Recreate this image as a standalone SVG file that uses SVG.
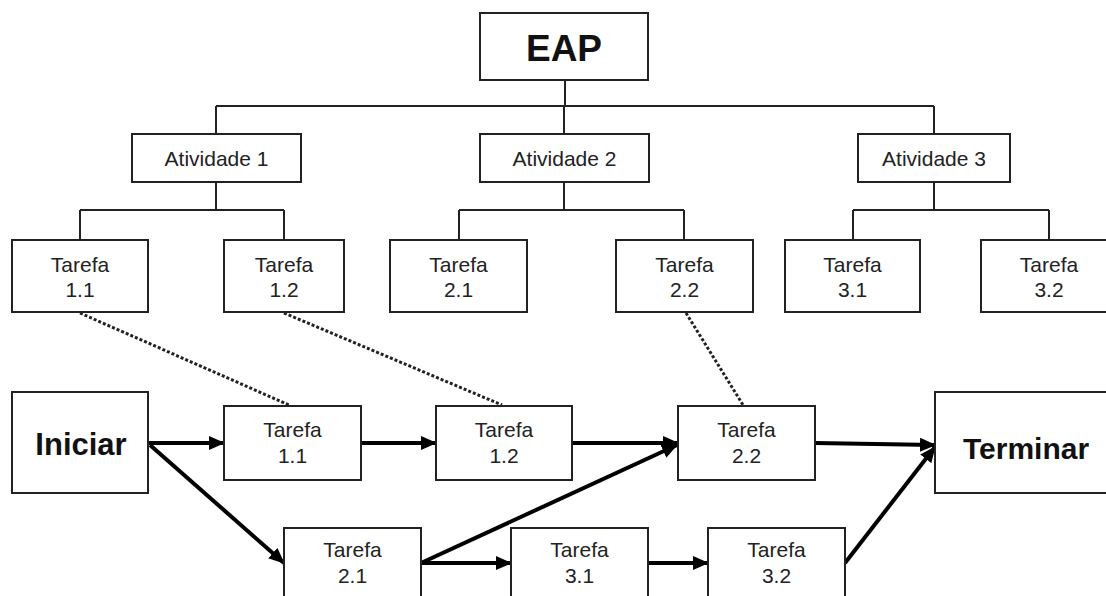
<svg xmlns="http://www.w3.org/2000/svg" width="1106" height="596" viewBox="0 0 1106 596">
<style>
.box{fill:#fff;stroke:#222;stroke-width:2}
.t{font-family:"Liberation Sans",Arial,sans-serif;font-size:21px;fill:#222;text-anchor:middle}
.b{font-family:"Liberation Sans",Arial,sans-serif;font-weight:bold;fill:#111;text-anchor:middle}
.tree{stroke:#222;stroke-width:2;fill:none}
.dot{stroke:#222;stroke-width:3;stroke-dasharray:3 2;fill:none}
.arr{stroke:#000;stroke-width:4;fill:none;marker-end:url(#ah)}
</style>
<defs>
<marker id="ah" markerUnits="userSpaceOnUse" markerWidth="16" markerHeight="14" refX="15" refY="7" orient="auto">
<path d="M0,0 L16,7 L0,14 z" fill="#000"/>
</marker>
</defs>
<rect width="1106" height="596" fill="#fff"/>
<g id="connectors">
<path class="tree" d="M565,80 V106 M216,106 H934 M216,106 V134 M564,106 V134 M934,106 V134"/>
<path class="tree" d="M216,182 V210 M80,210 H284 M80,210 V240 M284,210 V240"/>
<path class="tree" d="M564,182 V210 M459,210 H684 M459,210 V240 M684,210 V240"/>
<path class="tree" d="M934,182 V210 M853,210 H1049 M853,210 V240 M1049,210 V240"/>
<line class="dot" x1="80" y1="313" x2="289" y2="405"/>
<line class="dot" x1="284" y1="313" x2="502" y2="405"/>
<line class="dot" x1="686" y1="313" x2="743" y2="405"/>
<line class="arr" x1="148" y1="443" x2="224" y2="443"/>
<line class="arr" x1="150" y1="445" x2="284" y2="563"/>
<line class="arr" x1="361" y1="443" x2="436" y2="443"/>
<line class="arr" x1="572" y1="443" x2="678" y2="443"/>
<line class="arr" x1="421" y1="563" x2="677" y2="445"/>
<line class="arr" x1="421" y1="563" x2="511" y2="563"/>
<line class="arr" x1="648" y1="563" x2="708" y2="563"/>
<line class="arr" x1="815" y1="443" x2="935" y2="445"/>
<line class="arr" x1="845" y1="563" x2="935" y2="447"/>
</g>
<g id="eap"><rect class="box" x="480" y="13" width="168" height="67"/><text class="b" x="564" y="61" font-size="37">EAP</text></g>
<g id="atividade1"><rect class="box" x="132" y="134" width="169" height="48"/><text class="t" x="216.5" y="166">Atividade 1</text></g>
<g id="atividade2"><rect class="box" x="480" y="134" width="169" height="48"/><text class="t" x="564.5" y="166">Atividade 2</text></g>
<g id="atividade3"><rect class="box" x="858" y="134" width="152" height="48"/><text class="t" x="934" y="166">Atividade 3</text></g>
<g id="wbs-tarefa11"><rect class="box" x="12" y="240" width="136" height="72"/><text class="t" x="80" y="272">Tarefa</text><text class="t" x="80" y="297">1.1</text></g>
<g id="wbs-tarefa12"><rect class="box" x="224" y="240" width="120" height="72"/><text class="t" x="284" y="272">Tarefa</text><text class="t" x="284" y="297">1.2</text></g>
<g id="wbs-tarefa21"><rect class="box" x="390" y="240" width="137" height="72"/><text class="t" x="458.5" y="272">Tarefa</text><text class="t" x="458.5" y="297">2.1</text></g>
<g id="wbs-tarefa22"><rect class="box" x="616" y="240" width="137" height="72"/><text class="t" x="684.5" y="272">Tarefa</text><text class="t" x="684.5" y="297">2.2</text></g>
<g id="wbs-tarefa31"><rect class="box" x="785" y="240" width="135" height="72"/><text class="t" x="852.5" y="272">Tarefa</text><text class="t" x="852.5" y="297">3.1</text></g>
<g id="wbs-tarefa32"><rect class="box" x="981" y="240" width="137" height="72"/><text class="t" x="1049" y="272">Tarefa</text><text class="t" x="1049" y="297">3.2</text></g>
<g id="iniciar"><rect class="box" x="12" y="392" width="136" height="101"/><text class="b" x="81" y="455" font-size="31">Iniciar</text></g>
<g id="net-tarefa11"><rect class="box" x="224" y="406" width="137" height="74"/><text class="t" x="292.5" y="437">Tarefa</text><text class="t" x="292.5" y="463">1.1</text></g>
<g id="net-tarefa12"><rect class="box" x="436" y="406" width="136" height="74"/><text class="t" x="504" y="437">Tarefa</text><text class="t" x="504" y="463">1.2</text></g>
<g id="net-tarefa22"><rect class="box" x="678" y="406" width="137" height="74"/><text class="t" x="746.5" y="437">Tarefa</text><text class="t" x="746.5" y="463">2.2</text></g>
<g id="terminar"><rect class="box" x="935" y="392" width="183" height="101"/><text class="b" x="1026" y="459" font-size="30">Terminar</text></g>
<g id="net-tarefa21"><rect class="box" x="284" y="528" width="137" height="74"/><text class="t" x="352.5" y="557">Tarefa</text><text class="t" x="352.5" y="583">2.1</text></g>
<g id="net-tarefa31"><rect class="box" x="511" y="528" width="137" height="74"/><text class="t" x="579.5" y="557">Tarefa</text><text class="t" x="579.5" y="583">3.1</text></g>
<g id="net-tarefa32"><rect class="box" x="708" y="528" width="137" height="74"/><text class="t" x="776.5" y="557">Tarefa</text><text class="t" x="776.5" y="583">3.2</text></g>
</svg>
